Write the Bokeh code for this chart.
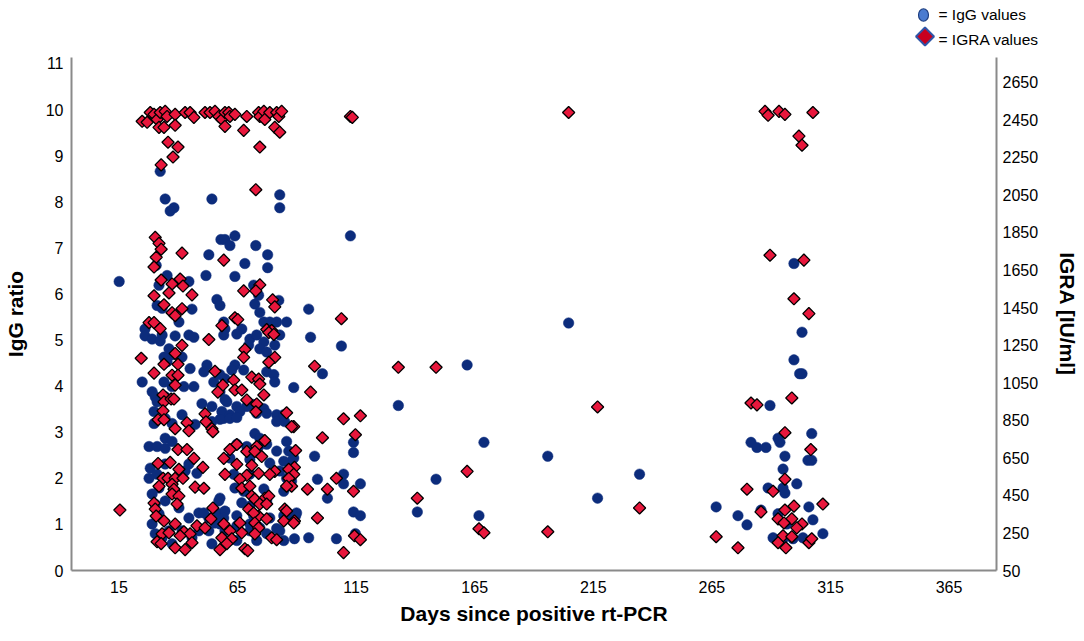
import numpy as np
from bokeh.plotting import figure
from bokeh.layouts import column
from bokeh.models import Range1d, LinearAxis, FixedTicker
from bokeh.core.properties import value
from bokeh.embed import file_html
from bokeh.resources import INLINE

# ---------------- data ----------------
x_ticks = [15, 65, 115, 165, 215, 265, 315, 365]
igg_ticks = [0, 1, 2, 3, 4, 5, 6, 7, 8, 9, 10, 11]
igra_ticks = [50, 250, 450, 650, 850, 1050, 1250, 1450, 1650, 1850, 2050, 2250, 2450, 2650]
key_labels = ["= IgG values", "= IGRA values"]

igg_days = [
    15.1, 112.6, 95, 204.6, 95.8, 108.8, 161.8, 100.8, 88.7, 132.8, 168.9, 113.9, 113.9, 97.5, 195.8, 234.5,
    109.7, 109.7, 116.8, 98.7, 148.7, 102.9, 216.8, 140.8, 113.9, 116.8, 166.8, 89.5, 89, 106.7, 114.7, 87.8,
    299.6, 303, 299.6, 302, 303, 289.5, 307.1, 281.5, 284, 287.8, 292.9, 293.7, 295.8, 305.5, 307.1, 295,
    300.8, 288.7, 295, 295.8, 266.8, 276, 279.8, 285.7, 305.9, 307.6, 292.9, 296.6, 311.8, 290.8, 299.2, 303.4, 295,
    32.4, 34.5, 54.2, 38.2, 36.6, 58, 59.7, 52.9, 30.7, 51.7, 35.3, 44.5, 31.9, 45.8, 56.3, 57.6, 31.1, 33.2,
    40.3, 26, 59.2, 59.7,
    26, 29, 33.2, 38.7, 44.5, 46.6, 32.4, 36.1, 37.4, 34, 35.3, 41.6, 45,
    24.8, 34, 29, 30.3, 34.5, 31.1, 37.4, 42.4, 46.6, 52.1, 50.8, 55, 57.6, 59.7,
    29.8, 29.8, 34.5, 37.4, 41.6, 47.1, 59.2, 54.2, 34.5, 27.7, 31.1, 34.5, 37.4,
    28.2, 31.1, 27.7, 31.9, 34.5, 42.9, 44.5, 47.9, 29, 30.3, 34.5, 40.3, 31.9, 29,
    44.5, 48.7, 52.9, 57.1, 59.7, 55.5, 36.1, 41.6, 30.3, 48.7, 52.9, 59.7,
    33.2, 37.4, 45.8, 54.2, 50.8, 57.1, 50, 54.2,
    82.8, 82.8, 63.9, 61.8, 72.7, 77.7, 68.1, 77.7, 63.9, 71.8, 73.9, 72.3, 82.4, 74.4, 76.1, 78.6, 81.5, 85.7, 66.8,
    59.2, 64.7, 70.2, 73.1, 76.1, 82.8, 69.7, 74.4, 77.3, 80.7,
    63.9, 67.6, 62.6, 77.3, 80.3, 80.7, 59.7, 57.6,
    60.5, 64.7, 68.9, 71.8, 76.1, 58.4, 61.8, 66, 73.1, 77.3, 81.5, 81.5,
    57.6, 61.8, 64.7, 84.5, 84.9, 72.3, 74.4, 85.7,
    64.7, 68.9, 73.9, 77.3, 81.5, 86.6, 61.8, 70.2, 78.6, 84.5, 88.7,
    63.4, 70.2, 82.8, 85.7, 87.8, 63.9, 67.6, 76.1, 84.5,
    57.6, 66.8, 70.2, 77.3, 89.9, 59.2, 64.7, 71.8, 78.6, 84.5, 87,
    57.6, 64.7, 70.2, 74.4, 81.5, 70.2, 77.3, 82.8, 95, 64.7, 73.1, 84.5,
]
igg_ratio = [
    6.27, 7.26, 5.67, 5.37, 5.06, 4.87, 4.46, 4.27, 3.97, 3.58, 2.78, 2.78, 2.56, 2.48, 2.48, 2.09,
    2.09, 1.88, 1.88, 1.98, 1.98, 1.57, 1.57, 1.27, 1.27, 1.19, 1.19, 1.19, 0.69, 0.69, 0.8, 2.37,
    6.66, 5.17, 4.57, 4.27, 4.27, 3.58, 2.97, 2.78, 2.67, 2.67, 2.87, 2.78, 2.48, 2.39, 2.39, 2.2,
    1.88, 1.79, 1.79, 1.68, 1.38, 1.19, 0.99, 1.31, 1.38, 1.1, 1.23, 1.01, 0.8, 0.71, 0.69, 0.71, 0.69,
    8.66, 8.06, 8.06, 7.87, 7.80, 7.18, 7.18, 6.85, 6.62, 6.4, 6.4, 6.27, 6.19, 5.67, 5.88, 5.75, 5.75, 5.69,
    5.39, 5.24, 5.39, 5.24,
    5.09, 5.02, 5.11, 5.09, 5.11, 5.06, 4.98, 4.81, 4.68, 4.63, 4.53, 4.63, 4.38,
    4.09, 4.09, 3.88, 3.77, 3.77, 3.66, 3.99, 3.99, 3.99, 4.46, 4.31, 4.09, 4.25, 3.71,
    3.45, 3.19, 3.30, 3.19, 3.38, 3.17, 3.30, 3.23, 2.87, 2.69, 2.69, 2.65, 2.80,
    2.22, 2.09, 2.0, 1.79, 2.31, 2.16, 2.31, 2.11, 1.66, 1.44, 1.51, 1.36, 1.23, 1.01,
    1.14, 1.25, 1.14, 1.23, 1.29, 1.03, 0.86, 0.86, 0.80, 0.86, 0.86, 0.86,
    0.71, 0.58, 0.71, 0.58, 1.25, 1.51, 3.62, 3.56,
    8.15, 7.87, 7.26, 7.05, 7.05, 6.85, 6.66, 6.57, 6.38, 6.19, 5.97, 5.78, 5.86, 5.60, 5.39, 5.39, 5.39, 5.39, 5.24,
    5.11, 5.13, 5.02, 5.11, 4.96, 5.11, 4.89, 4.81, 4.74, 4.89,
    4.46, 4.35, 4.35, 4.31, 4.25, 4.09, 4.16, 3.88,
    3.66, 3.56, 3.56, 3.60, 3.51, 3.45, 3.38, 3.45, 3.41, 3.41, 3.38, 3.23,
    3.28, 3.30, 3.32, 3.38, 3.23, 2.97, 2.87, 2.80,
    2.74, 2.69, 2.69, 2.74, 2.59, 2.59, 2.44, 2.41, 2.33, 2.37, 2.44,
    2.09, 2.09, 2.16, 2.0, 1.94, 1.79, 1.72, 1.77, 1.72,
    1.57, 1.47, 1.40, 1.51, 1.25, 1.14, 1.19, 1.19, 1.14, 1.19, 1.14,
    1.01, 0.97, 1.01, 0.93, 0.91, 0.86, 0.80, 0.86, 0.71, 0.65, 0.65, 0.65,
]

igra_days = [
    15.4, 112.6, 113.4, 204.6, 108.8, 97.5, 132.8, 148.7, 95.8, 216.8, 109.7, 116.8, 114.7, 100.8, 89.5, 88.7,
    89, 106.7, 94.5, 102.9, 113.9, 161.8, 140.8, 234.5, 98.7, 89, 166.8, 168.9, 195.8, 114.3, 116.8, 109.7,
    287.4, 288.7, 293.3, 295.8, 307.6, 301.7, 303, 289.5, 303.8, 299.6, 305.9, 298.7, 281.5, 284, 295.8, 306.7,
    295.8, 279.8, 290.8, 311.8, 299.6, 295.8, 285.7, 292.9, 298.7, 295.4, 303, 300.8, 266.8, 295, 298.7, 292.9,
    296.2, 305.9, 307.1, 276,
    24.8, 26.9, 28.2, 29.8, 31.1, 32.4, 34.5, 35.3, 38.7, 42.9, 45, 46.6, 51.3, 53.4, 55.5, 57.1, 58.4, 59.7,
    31.9, 34, 38.7, 35.7, 39.9, 37.8, 32.8,
    30.3, 31.9, 32.8, 41.6, 30.7, 29.8, 32.8, 37.4, 40.8, 42, 36.1, 45.8, 29.8, 34, 41.6, 37.4, 38.7, 27.7,
    29.8, 32.4, 59.2, 58.4,
    24.4, 41.6, 52.9, 38.7, 34, 39.9, 29.8, 37.4, 39.9, 55.5,
    38.7, 58.8, 56.7, 33.6, 34, 37, 38.2, 33.6, 51.3, 51.7,
    31.5, 34, 43.7, 54.2, 54.6, 38.7, 44.5, 39.9, 43.7, 46.6,
    59.2, 31.5, 36.6, 50.4, 59.7, 40.3, 33.6, 35.7, 38.7, 42,
    31.9, 37.4, 38.2, 47.1, 50.8, 37.4, 40.3, 29.8, 39.5, 30.3,
    30.7, 34, 54.6, 53.8, 38.7, 42.4, 45, 40.8, 47.9, 51.3,
    58.4, 33.2, 36.1, 31.1, 32.8, 38.7, 42.9, 45.8, 57.6,
    61.3, 61.8, 63.9, 68.9, 73.9, 74.4, 76.1, 76.5, 78.6, 81.5, 82.4, 83.6,
    59.7, 67.6, 80.7, 82.8, 74.4, 72.7, 74.4, 72.7, 67.6, 79.8, 80.7, 63.9, 65.1, 77.3, 79.4,
    78.2, 80.3, 68.1, 67.6, 80.7, 78.2, 71, 73.9, 74.4, 63.4,
    63.9, 66.8, 76.1, 68.9, 73.1, 72.7, 85.7, 87.8,
    76.5, 73.1, 64.7, 61.8, 68.9, 72.3, 75.2,
    64.7, 71, 73.9, 80.7, 78.6, 86.6, 88.7, 68.9, 66, 86.6, 87.8, 85.7, 66.8, 70.2,
    71, 72.3, 76.5, 78.2, 74.4, 77.3,
    69.7, 73.9, 71.8, 84.9, 85.7,
    77.3, 84.5, 88.7, 66, 72.3, 73.9, 72.3,
    59.2, 61.8, 62.6, 60.5, 66.8, 79.4, 81.5, 68.1, 69.3,
]
igra_iu = [
    372, 2468, 2463, 2489, 1391, 1138, 1132, 1132, 1000, 921, 858, 874, 773, 757, 689, 816,
    599, 541, 483, 483, 472, 578, 435, 383, 330, 314, 272, 251, 256, 235, 214, 145,
    2495, 2474, 2495, 2479, 2489, 2363, 2315, 1729, 1703, 1497, 1418, 969, 942, 932, 784, 694,
    536, 483, 472, 404, 393, 372, 362, 325, 325, 303, 298, 277, 230, 235, 230, 198,
    171, 198, 219, 171,
    2442, 2437, 2489, 2479, 2452, 2489, 2495, 2468, 2479, 2489, 2489, 2463, 2489, 2489, 2495, 2468, 2452, 2489,
    2410, 2410, 2421, 2331, 2305, 2252, 2210,
    1824, 1792, 1761, 1740, 1718, 1666, 1597, 1576, 1602, 1565, 1528, 1518, 1513, 1465, 1444, 1423, 1407, 1370,
    1370, 1338, 1703, 1354,
    1180, 1249, 1280, 1206, 1148, 1148, 1101, 1090, 1090, 1111,
    1037, 1037, 1000, 985, 948, 963, 963, 900, 884, 842,
    853, 853, 837, 805, 789, 805, 794, 694, 694, 647,
    647, 620, 626, 599, 562, 589, 541, 541, 541, 541,
    499, 509, 483, 494, 488, 457, 446, 409, 404, 377,
    340, 314, 383, 325, 298, 256, 245, 235, 288, 277,
    224, 245, 251, 203, 193, 171, 161, 198, 161,
    2489, 2468, 2479, 2468, 2489, 2468, 2495, 2452, 2489, 2489, 2468, 2495,
    2415, 2394, 2410, 2384, 2305, 2078, 1571, 1539, 1539, 1491, 1454, 1396, 1386, 1333, 1328,
    1317, 1307, 1227, 1185, 1185, 1159, 1080, 1069, 1043, 1064,
    1011, 1011, 985, 958, 937, 895, 890, 816,
    742, 710, 721, 694, 684, 684, 657,
    615, 610, 567, 578, 562, 589, 562, 557, 536, 541, 499, 499, 488, 499,
    446, 430, 435, 446, 404, 404,
    377, 340, 356, 377, 367,
    325, 314, 303, 303, 303, 277, 245,
    298, 261, 219, 193, 251, 224, 214, 166, 156,
]

n1 = min(len(igg_days), len(igg_ratio))
n2 = min(len(igra_days), len(igra_iu))

FONT = "Liberation Sans"
BLUE = "#0c2c7c"
RED = "#e8173c"
W = 1084
KEY_H = 50
MAIN_H = 591

Y_TOP = 11.13
IGRA_PER_UNIT = (2750 - 50) / 11.0
IGRA_TOP = 50 + Y_TOP * IGRA_PER_UNIT

# ---------------- key strip (above the plot) ----------------
k = figure(width=W, height=KEY_H, output_backend="svg", toolbar_location=None,
           x_range=Range1d(0, W), y_range=Range1d(KEY_H, 0),
           x_axis_type=None, y_axis_type=None,
           min_border_left=0, min_border_right=0, min_border_top=0, min_border_bottom=0)
k.outline_line_color = None
k.xgrid.visible = False
k.ygrid.visible = False
k.ellipse(x=[923], y=[14.5], width=10, height=12.5, fill_color="#4a7bd0",
          line_color="#1f3f80", line_width=1.2)
k.patch(x=[924.5, 933.5, 924.5, 915.5], y=[27, 36, 45, 36], fill_color="#c8001e",
        line_color="#2e55a8", line_width=2)
k.text(x=[938, 938], y=[14, 39], text=key_labels, text_baseline="middle",
       text_font=value(FONT), text_font_size=value("15.5px"), text_color="black")

# ---------------- main plot ----------------
p = figure(width=W, height=MAIN_H, output_backend="svg", toolbar_location=None,
           x_range=Range1d(-5, 385), y_range=Range1d(0, Y_TOP),
           min_border_left=70, min_border_right=88, min_border_top=7, min_border_bottom=71)
p.extra_y_ranges = {"igra": Range1d(50, IGRA_TOP)}
p.outline_line_color = None
p.xgrid.visible = False
p.ygrid.visible = False

for fig in (k, p):
    try:
        fig.frame_align = False
    except Exception:
        pass

p.scatter(igg_days[:n1], igg_ratio[:n1], marker="circle", size=10.5,
          fill_color=BLUE, line_color=BLUE, line_width=0.5)
p.scatter(igra_days[:n2], igra_iu[:n2], marker="square", angle=np.pi / 4, size=8.6,
          fill_color=RED, line_color="black", line_width=1.3, y_range_name="igra")

right = LinearAxis(y_range_name="igra")
p.add_layout(right, "right")

for ax in [p.xaxis[0], p.yaxis[0], right]:
    ax.axis_line_color = "#8a8a8a"
    ax.axis_line_width = 2
    ax.major_tick_line_color = None
    ax.minor_tick_line_color = None
    ax.major_tick_out = 0
    ax.major_tick_in = 0
    ax.minor_tick_out = 0
    ax.minor_tick_in = 0
    ax.major_label_text_font = FONT
    ax.major_label_text_font_size = "16px"
    ax.major_label_text_color = "black"
    ax.axis_label_text_font = FONT
    ax.axis_label_text_font_style = "bold"
    ax.axis_label_text_font_size = "21px"
    ax.axis_label_text_color = "black"

p.xaxis[0].ticker = FixedTicker(ticks=x_ticks)
p.yaxis[0].ticker = FixedTicker(ticks=igg_ticks)
right.ticker = FixedTicker(ticks=igra_ticks)

p.xaxis[0].axis_label = "Days since positive rt-PCR"
p.xaxis[0].major_label_standoff = 10
p.xaxis[0].axis_label_standoff = 6
p.yaxis[0].axis_label = "IgG ratio"
p.yaxis[0].major_label_standoff = 8
p.yaxis[0].axis_label_standoff = 16
right.axis_label = "IGRA [IU/ml]"
right.major_label_standoff = 6
right.axis_label_standoff = 15

layout = column(k, p, spacing=0)
open("out.html", "w").write(file_html(layout, INLINE))
